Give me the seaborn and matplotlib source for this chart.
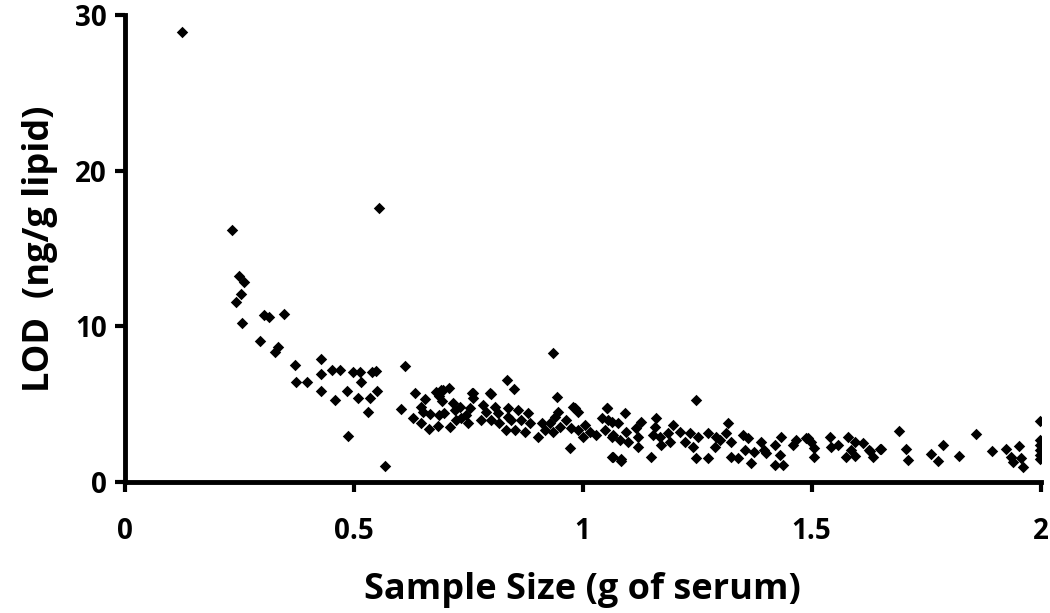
import pandas as pd
import seaborn as sns
import matplotlib.pyplot as plt

# sample size (g of serum) and LOD (ng/g lipid)
sample_size = [
    0.124, 0.234, 0.249, 0.259, 0.253, 0.242, 0.255, 0.304, 0.314, 0.348,
    0.295, 0.328, 0.335, 0.371, 0.374, 0.397, 0.428, 0.428, 0.428, 0.453,
    0.469, 0.459, 0.486, 0.487, 0.499, 0.513, 0.516, 0.509, 0.535, 0.530,
    0.539, 0.549, 0.550, 0.556, 0.569, 0.612, 0.604,
    0.633, 0.655, 0.680, 0.691, 0.708, 0.687, 0.693, 0.647, 0.651, 0.629,
    0.647, 0.664, 0.666, 0.684, 0.687, 0.698, 0.716, 0.720, 0.731, 0.709,
    0.724, 0.735, 0.746, 0.753, 0.757, 0.760, 0.749, 0.782, 0.778, 0.797,
    0.789, 0.800, 0.808, 0.815, 0.818, 0.835, 0.837, 0.833, 0.849, 0.799,
    0.761, 0.695, 0.935, 0.944,
    0.837, 0.859, 0.881, 0.844, 0.866, 0.852, 0.873, 0.884, 0.902, 0.910,
    0.917, 0.928, 0.939, 0.946, 0.935, 0.950, 0.964, 0.972, 0.979, 0.990,
    0.975, 0.990, 1.004, 1.001, 1.015, 1.030, 1.041, 1.052, 1.055, 1.048,
    1.063, 1.063, 0.983, 1.054, 1.083,
    1.092, 1.077, 1.063, 1.066, 1.081, 1.095, 1.099, 1.117, 1.128, 1.121,
    1.121, 1.066, 1.084, 1.161, 1.157, 1.154, 1.168, 1.172, 1.150, 1.186,
    1.197, 1.190, 1.212, 1.223, 1.234, 1.241, 1.252, 1.248, 1.274, 1.274,
    1.292, 1.288, 1.247,
    1.317, 1.299, 1.313, 1.324, 1.350, 1.361, 1.390, 1.354, 1.375, 1.397,
    1.401, 1.324, 1.339, 1.368, 1.419, 1.434, 1.430, 1.419, 1.437, 1.459,
    1.466, 1.488, 1.499, 1.506, 1.506, 1.492,
    1.539, 1.543, 1.558, 1.579, 1.594, 1.587, 1.576, 1.594, 1.612, 1.625,
    1.634, 1.650, 1.690, 1.707, 1.710, 1.627, 1.651,
    1.761, 1.777, 1.787, 1.822, 1.858, 1.894, 1.925, 1.936, 1.940, 1.954,
    1.958, 1.961, 1.998, 1.998, 1.998, 1.998, 1.998, 1.998,
]
lod = [
    28.9, 16.2, 13.25, 12.86, 12.05, 11.58, 10.2, 10.7, 10.6, 10.8,
    9.06, 8.37, 8.69, 7.53, 6.44, 6.44, 7.92, 6.94, 5.87, 7.21,
    7.21, 5.29, 5.87, 2.93, 7.04, 7.04, 6.44, 5.37, 5.37, 4.52,
    7.04, 7.13, 5.87, 17.6, 1.03, 7.43, 4.71,
    5.69, 5.31, 5.80, 5.91, 6.01, 5.52, 5.22, 4.84, 4.52, 4.09,
    3.81, 3.38, 4.37, 3.59, 4.30, 4.41, 5.05, 4.62, 4.84, 3.55,
    3.98, 4.09, 4.30, 4.73, 5.69, 5.37, 3.77, 4.94, 3.98, 5.69,
    4.52, 3.98, 4.84, 4.41, 3.77, 6.55, 4.19, 3.34, 5.95, 5.65,
    5.69, 5.90, 8.30, 5.48,
    4.73, 4.62, 4.41, 3.98, 3.98, 3.34, 3.23, 3.77, 2.91, 3.77,
    3.34, 3.77, 4.19, 4.52, 3.23, 3.55, 3.98, 2.16, 4.84, 4.52,
    3.44, 3.34, 3.66, 2.91, 3.23, 3.02, 4.09, 4.73, 3.98, 3.34,
    2.91, 1.62, 4.73, 4.73, 1.37,
    4.41, 3.77, 3.87, 3.02, 2.70, 3.23, 2.59, 3.44, 3.87, 2.91,
    2.27, 1.62, 1.45, 4.09, 3.55, 3.02, 2.91, 2.37, 1.62, 3.12,
    3.66, 2.59, 3.23, 2.59, 3.12, 2.27, 2.91, 1.52, 1.52, 3.12,
    2.91, 2.27, 5.29,
    3.81, 2.70, 3.12, 2.59, 3.02, 2.80, 2.59, 2.05, 1.95, 2.05,
    1.84, 1.58, 1.52, 1.20, 2.37, 2.91, 1.73, 1.09, 1.09, 2.37,
    2.70, 2.80, 2.59, 2.16, 1.62, 2.81,
    2.91, 2.27, 2.37, 2.91, 2.59, 2.05, 1.62, 1.67, 2.48, 2.05,
    1.58, 2.10, 3.27, 2.10, 1.41, 2.01, 2.12,
    1.80, 1.37, 2.38, 1.69, 3.06, 1.99, 2.12, 1.63, 1.30, 2.31,
    1.52, 0.94, 3.94, 2.70, 2.38, 2.06, 1.73, 1.46,
]
x_ticks = [0, 0.5, 1, 1.5, 2]
x_tick_labels = ["0", "0.5", "1", "1.5", "2"]
y_ticks = [0, 10, 20, 30]

df = pd.DataFrame({"size": sample_size, "lod": lod})

sns.set_style("ticks")
plt.rcParams["font.family"] = ["Open Sans", "DejaVu Sans"]
plt.rcParams["font.weight"] = "bold"
plt.rcParams["text.color"] = "black"
plt.rcParams["axes.labelcolor"] = "black"
plt.rcParams["xtick.color"] = "black"
plt.rcParams["ytick.color"] = "black"

fig, ax = plt.subplots(figsize=(10.5, 6.13), dpi=100)
fig.subplots_adjust(left=0.119, right=0.991, top=0.9755, bottom=0.2137)

sns.scatterplot(data=df, x="size", y="lod", marker="D", s=34, color="black",
                edgecolor="black", linewidth=0, ax=ax)

ax.set_xlim(0, 2)
ax.set_ylim(0, 30)
ax.set_xticks(x_ticks, x_tick_labels)
ax.set_yticks(y_ticks)
ax.set_xlabel("Sample Size (g of serum)", fontsize=26, fontweight="bold", labelpad=19)
ax.set_ylabel("LOD  (ng/g lipid)", fontsize=26, fontweight="bold", labelpad=12)
ax.tick_params(axis="both", labelsize=20, width=3, length=7, direction="out")
ax.tick_params(axis="x", pad=18)
ax.tick_params(axis="y", pad=6)
for lbl in ax.get_xticklabels() + ax.get_yticklabels():
    lbl.set_fontweight("bold")
for side in ["left", "bottom"]:
    ax.spines[side].set_linewidth(3.5)
    ax.spines[side].set_color("black")
    ax.spines[side].set_capstyle("projecting")
sns.despine(ax=ax)

plt.savefig("out.png")
